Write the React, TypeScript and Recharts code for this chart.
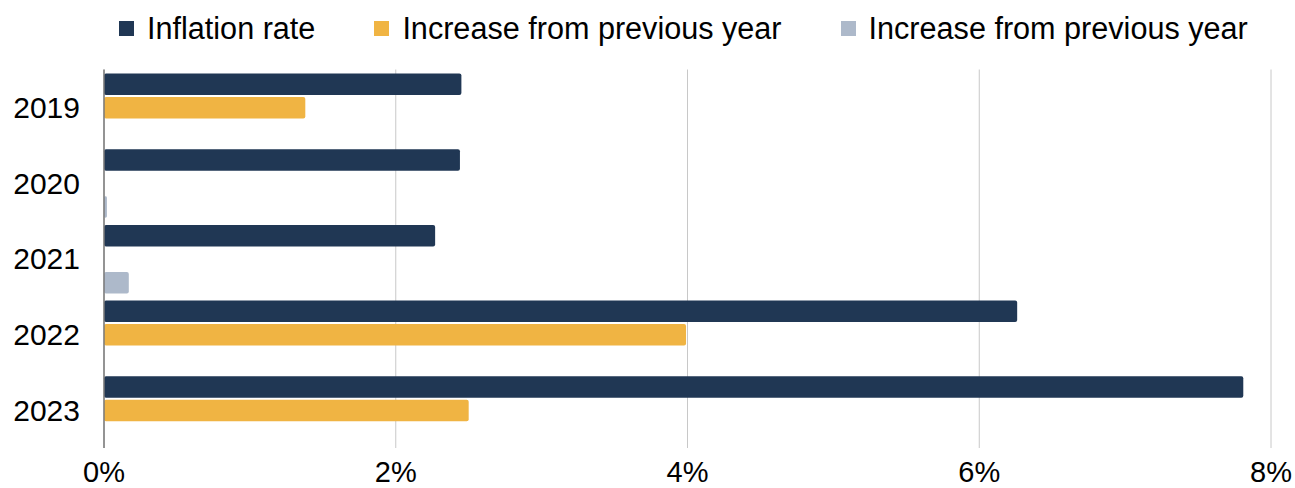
import { BarChart, Bar, XAxis, YAxis, CartesianGrid, Legend } from "recharts";

const years = ["2019", "2020", "2021", "2022", "2023"];
const inflationRate = [2.45, 2.44, 2.27, 6.26, 7.81];
const increaseOrange = [1.38, null, null, 3.99, 2.5];
const increaseGrey = [null, 0.02, 0.17, null, null];
const xTicks = [0, 2, 4, 6, 8];

const NAVY = "#203754";
const ORANGE = "#F0B443";
const GREY = "#ADB9CA";
const FONT = "'Liberation Sans', Arial, sans-serif";

const chartData = years.map((year, i) => ({
  year,
  inflation: inflationRate[i],
  increaseA: increaseOrange[i],
  increaseB: increaseGrey[i],
}));

const legendItems = [
  { label: "Inflation rate", color: NAVY },
  { label: "Increase from previous year", color: ORANGE },
  { label: "Increase from previous year", color: GREY },
];

function ChartLegend() {
  return (
    <div
      style={{
        height: 40,
        display: "flex",
        alignItems: "center",
        paddingLeft: 119,
        fontFamily: FONT,
        fontSize: 30.6,
        color: "#000",
      }}
    >
      {legendItems.map((item, i) => (
        <div key={i} style={{ display: "flex", alignItems: "center", marginRight: 59 }}>
          <span
            style={{
              display: "inline-block",
              width: 15,
              height: 15,
              background: item.color,
              marginRight: 13,
            }}
          />
          <span style={{ whiteSpace: "nowrap" }}>{item.label}</span>
        </div>
      ))}
    </div>
  );
}

export default function App() {
  return (
    <div style={{ position: "absolute", left: 0, top: 0, background: "#fff" }}>
      <BarChart
        width={1295}
        height={488}
        data={chartData}
        layout="vertical"
        margin={{ top: 29.5, right: 24, bottom: 0, left: 0 }}
        barSize={21.5}
        barGap={2}
      >
        <CartesianGrid horizontal={false} stroke="#c8c8c8" />
        <XAxis
          type="number"
          domain={[0, 8]}
          ticks={xTicks}
          tickFormatter={(v: number) => `${v}%`}
          axisLine={false}
          tickLine={false}
          tickSize={0}
          tickMargin={13}
          height={40}
          tick={{ fontSize: 29, fill: "#000", fontFamily: FONT }}
          interval={0}
        />
        <YAxis
          type="category"
          dataKey="year"
          width={104}
          axisLine={{ stroke: "#7a7a7a", strokeWidth: 1.5 }}
          tickLine={false}
          tickSize={0}
          tickMargin={24}
          tick={{ fontSize: 30, fill: "#000", fontFamily: FONT }}
        />
        <Legend
          verticalAlign="top"
          align="left"
          wrapperStyle={{ top: 8, left: 0, width: 1295 }}
          content={() => <ChartLegend />}
        />
        <Bar dataKey="inflation" name="Inflation rate" fill={NAVY} radius={2} isAnimationActive={false} />
        <Bar dataKey="increaseA" name="Increase from previous year" fill={ORANGE} radius={2} isAnimationActive={false} />
        <Bar dataKey="increaseB" name="Increase from previous year" fill={GREY} radius={2} isAnimationActive={false} />
      </BarChart>
    </div>
  );
}
